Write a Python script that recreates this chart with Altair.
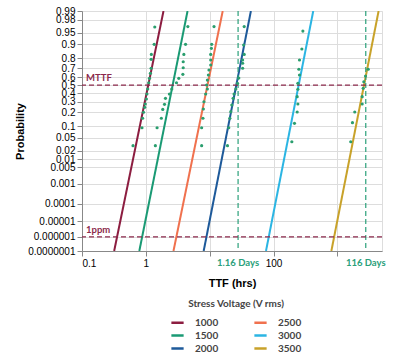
import altair as alt
import pandas as pd
from statistics import NormalDist

# ---------------- data ----------------
voltages = ["1000", "1500", "2000", "2500", "3000", "3500"]
colors = ["#8c1d40", "#1a9a74", "#1e5a9a", "#f0714e", "#2bb5e3", "#c8a22a"]

# fitted lines: hours at p = 1e-7 and at p = 0.99
line_p = [0.0000001, 0.99]
line_1000 = [0.319, 1.89]
line_1500 = [0.790, 4.50]
line_2000 = [8.05, 44.2]
line_2500 = [2.71, 16.0]
line_3000 = [76.2, 419.0]
line_3500 = [805.0, 4423.0]

# observed failures (hours, cumulative probability)
h_1000 = [0.63, 0.87, 0.89, 0.92, 0.96, 0.98, 1.02, 1.04, 1.07, 1.11, 1.14, 1.18, 1.21, 1.21, 1.22, 1.35, 1.38]
p_1000 = [0.029, 0.091, 0.150, 0.198, 0.244, 0.278, 0.332, 0.391, 0.452, 0.531, 0.585, 0.645, 0.702, 0.791, 0.833, 0.900, 0.966]
h_1500 = [1.41, 1.50, 1.75, 1.84, 1.96, 2.03, 2.34, 2.55, 3.02, 3.28, 3.80, 3.85, 3.85, 3.94, 4.19, 4.55]
p_1500 = [0.029, 0.091, 0.150, 0.224, 0.274, 0.340, 0.391, 0.452, 0.531, 0.585, 0.633, 0.708, 0.769, 0.833, 0.900, 0.967]
h_2000 = [19.0, 19.9, 20.7, 21.4, 22.2, 23.3, 24.1, 25.7, 27.3, 28.6, 32.8, 32.8, 32.8, 34.7, 34.0, 34.7]
p_2000 = [0.029, 0.091, 0.150, 0.203, 0.267, 0.340, 0.391, 0.452, 0.523, 0.589, 0.702, 0.754, 0.785, 0.833, 0.896, 0.967]
h_2500 = [7.48, 7.48, 7.84, 7.96, 8.13, 8.65, 9.20, 8.97, 9.20, 9.54, 9.75, 10.37, 10.37, 10.37, 10.64, 10.75, 11.69]
p_2500 = [0.029, 0.091, 0.150, 0.228, 0.302, 0.391, 0.452, 0.502, 0.564, 0.625, 0.683, 0.737, 0.785, 0.833, 0.876, 0.900, 0.967]
h_3000 = [193.6, 212.9, 234.6, 240.6, 234.6, 240.6, 240.6, 254.9, 249.3, 254.9, 277.8, 288.2]
p_3000 = [0.038, 0.116, 0.200, 0.278, 0.359, 0.449, 0.523, 0.625, 0.691, 0.785, 0.872, 0.955]
h_3500 = [1619, 1722, 1871, 2447, 2447, 2540, 2597, 2761, 3043]
p_3500 = [0.038, 0.120, 0.200, 0.278, 0.359, 0.461, 0.543, 0.613, 0.691]

# reference lines
ref_p = [0.5, 0.000001]
ref_p_labels = ["MTTF", "1ppm"]
ref_hours = [27.84, 2784.0]
ref_hour_labels = ["1.16 Days", "116 Days"]

# axis ticks
y_tick_p = [0.0000001, 0.000001, 0.00001, 0.0001, 0.001, 0.005, 0.01, 0.02, 0.05,
            0.1, 0.2, 0.3, 0.4, 0.5, 0.6, 0.7, 0.8, 0.9, 0.95, 0.98, 0.99]
y_tick_labels = ["0.0000001", "0.000001", "0.00001", "0.0001", "0.001", "0.005", "0.01",
                 "0.02", "0.05", "0.1", "0.2", "0.3", "0.4", "0.5", "0.6", "0.7", "0.8",
                 "0.9", "0.95", "0.98", "0.99"]
x_tick_values = [0.1, 1, 10, 100, 1000]
x_domain = [0.1, 5000]

# ---------------- tables ----------------
line_hours = [line_1000, line_1500, line_2000, line_2500, line_3000, line_3500]
rows = []
for v, hs in zip(voltages, line_hours):
    for h, p in zip(hs, line_p):
        rows.append({"voltage": v, "hours": h, "p": p})
line_df = pd.DataFrame(rows)

pts = []
for v, hs, ps in zip(voltages, [h_1000, h_1500, h_2000, h_2500, h_3000, h_3500],
                     [p_1000, p_1500, p_2000, p_2500, p_3000, p_3500]):
    for h, p in zip(hs, ps):
        pts.append({"voltage": v, "hours": h, "p": p})
pt_df = pd.DataFrame(pts)

href_df = pd.DataFrame({"p": ref_p, "label": ref_p_labels})
vref_df = pd.DataFrame({"hours": ref_hours, "label": ref_hour_labels})

# probit scale (normal probability paper)
nd = NormalDist()
y_tick_z = [nd.inv_cdf(p) for p in y_tick_p]
z_min, z_max = y_tick_z[0], y_tick_z[-1]

label_expr = "''"
for z, lab in reversed(list(zip(y_tick_z, y_tick_labels))):
    label_expr = f"abs(datum.value - ({z:.6f})) < 0.001 ? '{lab}' : " + label_expr

FONT = "Lato"
TXT = "#3a3a3a"
MAROON = "#8c2a4c"
GREEN = "#2aa07a"

xscale = alt.Scale(type="log", domain=x_domain, nice=False)
yscale = alt.Scale(domain=[z_min, z_max], nice=False, zero=False)

x_axis = alt.Axis(values=x_tick_values, title="TTF (hrs)",
                  labelExpr="datum.value == 0.1 ? '0.1' : datum.value == 1 ? '1' : datum.value == 100 ? '100' : ''",
                  titleY=32, titleBaseline="middle", labelOverlap=False)
y_axis = alt.Axis(values=y_tick_z, labelExpr=label_expr, title="Probability",
                  labelOverlap=False, titleX=-62, titleY=120, titleAngle=270,
                  titleBaseline="middle", titleAlign="center")

X = alt.X("hours:Q", scale=xscale, axis=x_axis)
Y = alt.Y("z:Q", scale=yscale, axis=y_axis)

lines = alt.Chart(line_df).transform_calculate(
    z="quantileNormal(datum.p)"
).mark_line(strokeWidth=2, clip=True).encode(
    x=X,
    y=Y,
    color=alt.Color("voltage:N", scale=alt.Scale(domain=voltages, range=colors),
                    sort=voltages,
                    legend=alt.Legend(title="Stress Voltage (V rms)", orient="none",
                                      legendX=88, legendY=288, columns=2,
                                      symbolType="stroke", symbolStrokeWidth=2.5,
                                      symbolSize=150, columnPadding=30, rowPadding=0,
                                      labelOffset=10, padding=0, titleAnchor="middle",
                                      titlePadding=6, titleFontSize=10, titleFontWeight="bold",
                                      titleColor="#444", labelFontSize=10,
                                      labelFontWeight="bold", labelColor="#444",
                                      titleFont=FONT, labelFont=FONT)),
    detail="voltage:N",
)

points = alt.Chart(pt_df).transform_calculate(
    z="quantileNormal(datum.p)"
).mark_circle(size=10, color="#2a9e6e", opacity=1).encode(x=X, y=Y)

hrules = alt.Chart(href_df).transform_calculate(
    z="quantileNormal(datum.p)"
).mark_rule(color=MAROON, strokeDash=[5, 3], strokeWidth=1.2).encode(y=Y)

htext = alt.Chart(href_df).transform_calculate(
    z="quantileNormal(datum.p)"
).mark_text(color=MAROON, align="left", baseline="bottom", dx=4, dy=-2,
            fontSize=9.5, fontWeight="bold", font=FONT).encode(
    x=alt.value(0), y=Y, text="label:N",
)

vrules = alt.Chart(vref_df).mark_rule(color=GREEN, strokeDash=[5, 3], strokeWidth=1.2).encode(x=X)

vtext = alt.Chart(vref_df).mark_text(color=GREEN, align="center", baseline="middle",
                                      fontSize=9.5, fontWeight="bold", font=FONT).encode(
    x=X, y=alt.value(252), text="label:N",
)

chart = alt.layer(lines, vrules, hrules, points, htext, vtext).properties(
    width=300, height=240,
    autosize=alt.AutoSizeParams(type="none"),
    padding={"left": 82, "top": 11, "right": 23, "bottom": 105},
).configure_view(stroke="#555", strokeWidth=1).configure_axis(
    labelOverlap=False, grid=False, tickSize=4, labelPadding=3,
    labelFontWeight="bold", labelColor=TXT, titleFontSize=10, titleFontWeight="bold",
    titleColor=TXT, domainColor="#555", tickColor="#555", labelFont=FONT, titleFont=FONT,
).configure_axisX(labelFontSize=9.5).configure_axisY(labelFontSize=8.5).configure(background="white")

chart.save("out.html", embed_options={"renderer": "svg", "actions": False})
